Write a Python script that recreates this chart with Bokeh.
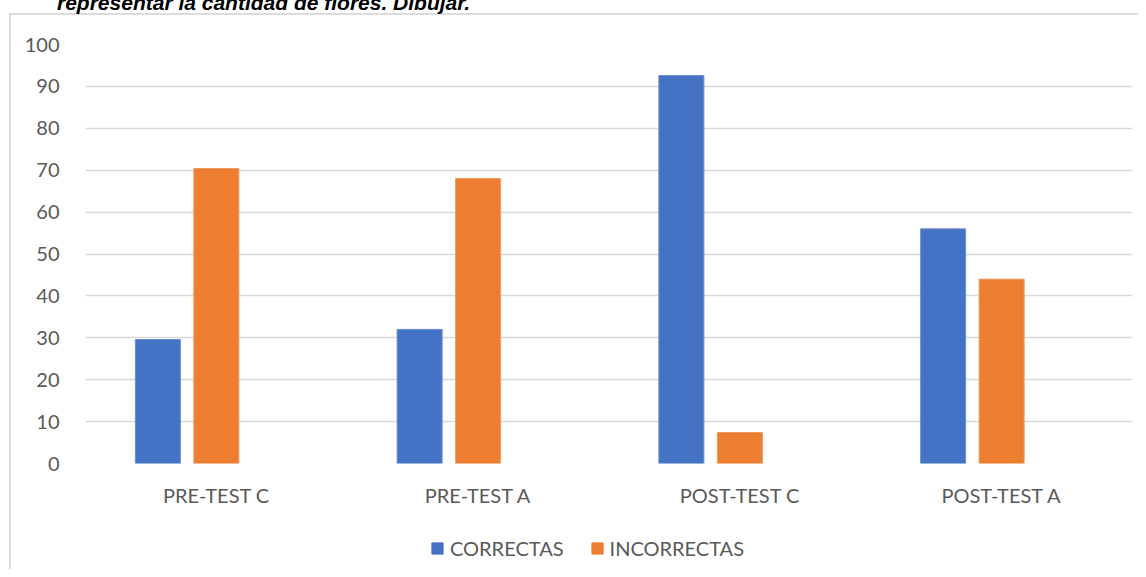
from bokeh.plotting import figure
from bokeh.layouts import column
from bokeh.models import (FactorRange, Range1d, Legend, LegendItem, Div,
                          ColumnDataSource, SingleIntervalTicker)
from bokeh.transform import dodge
from bokeh.embed import file_html
from bokeh.resources import INLINE

categories = ["PRE-TEST C", "PRE-TEST A", "POST-TEST C", "POST-TEST A"]
correctas = [29.6, 32.0, 92.6, 56.0]
incorrectas = [70.4, 68.0, 7.4, 44.0]
series_names = ["CORRECTAS", "INCORRECTAS"]
colors = ["#4472C4", "#ED7D31"]
title_text = "representar la cantidad de flores. Dibujar."

src = ColumnDataSource(dict(cat=categories, c=correctas, i=incorrectas))

FONT = "Lato"
GREY = "#595959"
W = 1138

# cut-off heading line above the chart box
head = Div(text=(f'<div style="margin-top:-10px; position:relative; top:-2px; padding-left:57px; '
                 f'white-space:nowrap; font-family:\'Liberation Sans\', Arial, sans-serif; '
                 f'font-size:21px; line-height:21px; font-weight:bold; font-style:italic; '
                 f'color:black;">{title_text}</div>'),
           width=W, height=14, styles={"overflow": "visible", "margin": "0", "padding": "0"})

p = figure(width=W, height=506, x_range=FactorRange(*categories, range_padding=0),
           y_range=Range1d(0, 100), output_backend="svg", toolbar_location=None,
           min_border_left=85, min_border_right=6, min_border_top=30, min_border_bottom=57)
p.outline_line_color = None
p.background_fill_color = "white"
p.border_fill_alpha = 0

r1 = p.vbar(x=dodge("cat", -0.2235, range=p.x_range), top="c", width=0.172, source=src,
            fill_color=colors[0], line_color="#6d8fd0", line_width=1)
r2 = p.vbar(x=dodge("cat", 0.0, range=p.x_range), top="i", width=0.172, source=src,
            fill_color=colors[1], line_color="#f19a5c", line_width=1)

p.xgrid.grid_line_color = None
p.ygrid.grid_line_color = "#d9d9d9"
p.ygrid.grid_line_width = 1.3
p.yaxis.ticker = SingleIntervalTicker(interval=10)

for ax in (p.xaxis, p.yaxis):
    ax.axis_line_color = None
    ax.major_tick_line_color = None
    ax.minor_tick_line_color = None
    ax.major_tick_out = 0
    ax.major_tick_in = 0
    ax.major_label_text_font = FONT
    ax.major_label_text_font_size = "20px"
    ax.major_label_text_color = GREY
p.yaxis.major_label_standoff = 22
p.xaxis.major_label_standoff = 19

# legend strip below the chart (swatch renderers sit far outside the visible range)
p2 = figure(width=W, height=49, x_range=Range1d(0, 1), y_range=Range1d(0, 1),
            output_backend="svg", toolbar_location=None, x_axis_type=None, y_axis_type=None,
            min_border_left=85, min_border_right=6, min_border_top=0, min_border_bottom=0)
p2.outline_line_color = None
p2.background_fill_alpha = 0
p2.border_fill_alpha = 0
p2.xgrid.grid_line_color = None
p2.ygrid.grid_line_color = None
l1 = p2.vbar(x=[-100], bottom=[-100], top=[-99], width=0.1,
             fill_color=colors[0], line_color=colors[0])
l2 = p2.vbar(x=[-100], bottom=[-100], top=[-99], width=0.1,
             fill_color=colors[1], line_color=colors[1])
legend = Legend(items=[LegendItem(label=series_names[0], renderers=[l1]),
                       LegendItem(label=series_names[1], renderers=[l2])],
                orientation="horizontal", location=(345, 9),
                label_text_font=FONT, label_text_font_size="20px", label_text_color=GREY,
                glyph_width=14, glyph_height=14, label_standoff=6, spacing=26,
                label_height=20, padding=0, margin=0, border_line_color=None,
                background_fill_alpha=0)
p2.add_layout(legend, "center")

BORDER = "#dcdcdc"
layout = column(head, p, p2, spacing=0, styles={
    "background": (f"linear-gradient({BORDER},{BORDER}) 9px 13px / 2px 100% no-repeat, "
                   f"linear-gradient({BORDER},{BORDER}) 9px 13px / 100% 2px no-repeat, white")})

open("out.html", "w").write(file_html(layout, INLINE))
